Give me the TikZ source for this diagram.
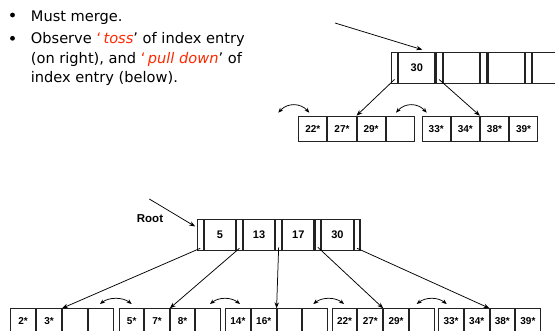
\documentclass[tikz,border=0pt]{standalone}
\usepackage{fontspec}
\setmainfont{DejaVu Sans}
\newfontfamily\labfont{Liberation Sans}
\usetikzlibrary{arrows.meta}
\definecolor{tred}{RGB}{255,40,0}
\definecolor{edge}{RGB}{35,35,35}

\newcommand\mkleaf[9]{%
  \node[cell,minimum width=#4pt,minimum height=#5pt,anchor=north west] (#1-1) at (#2,#3) {#6};%
  \node[cell,minimum width=#4pt,minimum height=#5pt,anchor=north west] (#1-2) at (#1-1.north east) {#7};%
  \node[cell,minimum width=#4pt,minimum height=#5pt,anchor=north west] (#1-3) at (#1-2.north east) {#8};%
  \node[cell,minimum width=#4pt,minimum height=#5pt,anchor=north west] (#1-4) at (#1-3.north east) {#9};%
}
\newcommand\mkindex[8]{%
  \node[#4strip,anchor=north west] (#1s0) at (#2,#3) {};%
  \node[#4key,anchor=north west] (#1k1) at (#1s0.north east) {#5};%
  \node[#4strip,anchor=north west] (#1s1) at (#1k1.north east) {};%
  \node[#4key,anchor=north west] (#1k2) at (#1s1.north east) {#6};%
  \node[#4strip,anchor=north west] (#1s2) at (#1k2.north east) {};%
  \node[#4key,anchor=north west] (#1k3) at (#1s2.north east) {#7};%
  \node[#4strip,anchor=north west] (#1s3) at (#1k3.north east) {};%
  \node[#4key,anchor=north west] (#1k4) at (#1s3.north east) {#8};%
  \node[#4strip,anchor=north west] (#1s4) at (#1k4.north east) {};%
}

\begin{document}
\begin{tikzpicture}[x=1pt,y=-1pt,
  cell/.style={draw=edge,line width=1pt,inner sep=0pt,
    font=\labfont\bfseries\fontsize{10}{10}\selectfont},
  ikey/.style={draw=edge,line width=1pt,inner sep=0pt,
    font=\labfont\bfseries\fontsize{11}{11}\selectfont},
  istrip/.style={draw=edge,line width=1.3pt,inner sep=0pt},
  tkey/.style={ikey,minimum width=36pt,minimum height=31pt},
  tstrip/.style={istrip,minimum width=6.3pt,minimum height=31pt},
  rkey/.style={ikey,minimum width=31.1pt,minimum height=31pt},
  rstrip/.style={istrip,minimum width=5.8pt,minimum height=31pt},
  arr/.style={-{Stealth[length=6pt,width=4.5pt]},line width=0.75pt},
  dbl/.style={{Stealth[length=5pt,width=4pt]}-{Stealth[length=5pt,width=4pt]},line width=0.75pt},
  bul/.style={circle,fill=black,inner sep=0pt,minimum size=4.8pt},
  txt/.style={font=\fontsize{14.6}{17}\selectfont,inner sep=0pt,anchor=base west}]
\useasboundingbox (0,0) rectangle (555,331);
\clip (0,0) rectangle (555,331);

% bullet text
\node[bul] (d1) at (12.5,15) {};
\node[bul] (d2) at (12.5,38.3) {};
\node[txt] (t1) at (30.7,22) {Must merge.};
\node[txt] (t2) at (30.7,44) {Observe {\color{tred}`\,\textit{toss}}' of index entry};
\node[txt] (t3) at (30.7,63.2) {(on right), and {\color{tred}`\,\textit{pull down}}' of};
\node[txt] (t4) at (30.7,82.4) {index entry (below).};

% top: index node and leaves
\mkindex{t}{390.7}{51.7}{t}{30}{}{}{}
\mkleaf{la}{298.3}{115.7}{28.1}{25.3}{22*}{27*}{29*}{}
\mkleaf{lb}{421.7}{115.7}{28.1}{25.3}{33*}{34*}{38*}{39*}

\coordinate (tin) at (335,23);
\draw[arr] (tin) -- ([xshift=-13pt,yshift=2pt]tk1.north east);
\draw[arr] ([yshift=4.5pt]ts0.south) -- (la-2.north east);
\draw[arr] ([yshift=4.5pt]ts1.south) -- (lb-2.north east);

\coordinate (c1a) at (278.3,112.7); \coordinate (c1b) at (309.3,112.7);
\coordinate (c2a) at (396,112.7);   \coordinate (c2b) at (426.7,112.7);
\draw[dbl] (c1a) .. controls +(9,-10) and +(-9,-10) .. (c1b);
\draw[dbl] (c2a) .. controls +(9,-10) and +(-9,-10) .. (c2b);

% bottom: root and leaves
\mkindex{r}{196.7}{219}{r}{5}{13}{17}{30}
\node[font=\labfont\bfseries\fontsize{11.5}{11.5}\selectfont] (rootlab) at (150,219) {Root};
\coordinate (rin) at (149.3,199);
\draw[arr] (rin) -- ([xshift=-1.5pt,yshift=-7.5pt]rs0.north west);

\mkleaf{b1}{10}{308.3}{25}{25}{2*}{3*}{}{}
\mkleaf{b2}{119}{308.3}{24.4}{25}{5*}{7*}{8*}{}
\mkleaf{b3}{225}{308.3}{24.8}{25}{14*}{16*}{}{}
\mkleaf{b4}{331.7}{308.3}{24.75}{25}{22*}{27*}{29*}{}
\mkleaf{b5}{438.3}{308.3}{24.6}{25}{33*}{34*}{38*}{39*}

\draw[arr] ([yshift=3pt]rs0.south) -- (b1-2.north east);
\draw[arr] ([yshift=3pt]rs1.south) -- (b2-2.north east);
\draw[arr] ([yshift=4pt]rs2.south) -- (b3-2.north east);
\draw[arr] ([yshift=4pt]rs3.south) -- (b4-2.north east);
\draw[arr] ([yshift=3pt]rs4.south) -- (b5-2.north east);

\coordinate (e1a) at (100,304);   \coordinate (e1b) at (131.7,304);
\coordinate (e2a) at (210,304);   \coordinate (e2b) at (240,304);
\coordinate (e3a) at (313.3,304); \coordinate (e3b) at (344,304);
\coordinate (e4a) at (416.7,304); \coordinate (e4b) at (446.7,304);
\foreach \p in {e1,e2,e3,e4}
  \draw[dbl] (\p a) .. controls +(9,-7) and +(-9,-7) .. (\p b);
\end{tikzpicture}
\end{document}
